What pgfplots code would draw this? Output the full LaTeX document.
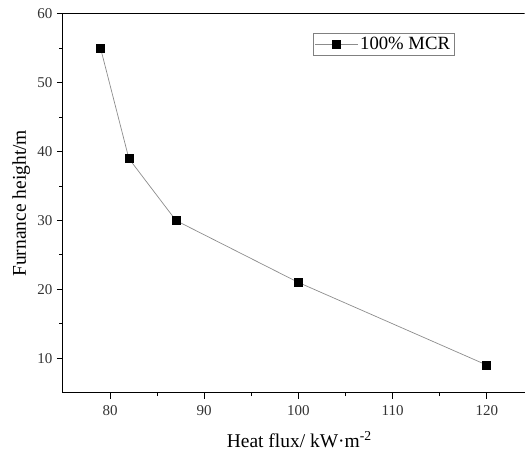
\documentclass[border=0pt]{standalone}
\usepackage{pgfplots}
\pgfplotsset{compat=1.18}
\usepackage{fontspec}
\setmainfont{Liberation Serif}
\begin{document}
\begin{tikzpicture}
\begin{axis}[
  scale only axis,
  width=462pt, height=379pt,
  xmin=75, xmax=124, ymin=5, ymax=60,
  axis x line*=bottom, axis y line*=left,
  axis line style={line width=1pt, -},
  xtick={80,90,...,120}, ytick={10,20,...,60},
  minor x tick num=1, minor y tick num=1,
  tick align=outside,
  major tick length=6pt, minor tick length=3.5pt,
  tick style={line width=1pt, black},
  /pgf/number format/assume math mode=true,
  tick label style={font=\fontsize{15}{15}\selectfont, text=black!80},
  xticklabel style={yshift=-3pt},
  yticklabel style={xshift=-1pt},
  xlabel={Heat flux/ kW·m\textsuperscript{-2}},
  ylabel={Furnance height/m},
  label style={font=\fontsize{19.5}{19.5}\selectfont},
  xlabel style={at={(axis description cs:0.512,0)}, anchor=base, yshift=-55pt},
  ylabel style={at={(axis description cs:-0.0801,0.5)}, anchor=base},
  legend style={at={(rel axis cs:0.541,0.95)}, anchor=north west, draw=black!50, line width=0.6pt,
    font=\fontsize{18.7}{18.7}\selectfont, inner sep=2pt},
  legend cell align=left,
  legend image code/.code={
    \draw[#1, line width=0.6pt] (0cm,0cm) -- (1.5cm,0cm);
    \draw[#1, only marks, mark=square*, mark size=3.8pt] plot coordinates {(0.75cm,0cm)};
  },
]
\addplot[color=black!45, line width=0.7pt, mark=square*, mark size=4pt,
  mark options={draw=black, fill=black}] coordinates {
  (79,55) (82,39) (87,30) (100,21) (120,9)
};
\addlegendentry{100\% MCR}
\draw[line width=1pt] (rel axis cs:0,1) -- (rel axis cs:1,1);
\end{axis}
\useasboundingbox (-63pt,-59pt) rectangle (462pt,393pt);
\end{tikzpicture}
\end{document}
